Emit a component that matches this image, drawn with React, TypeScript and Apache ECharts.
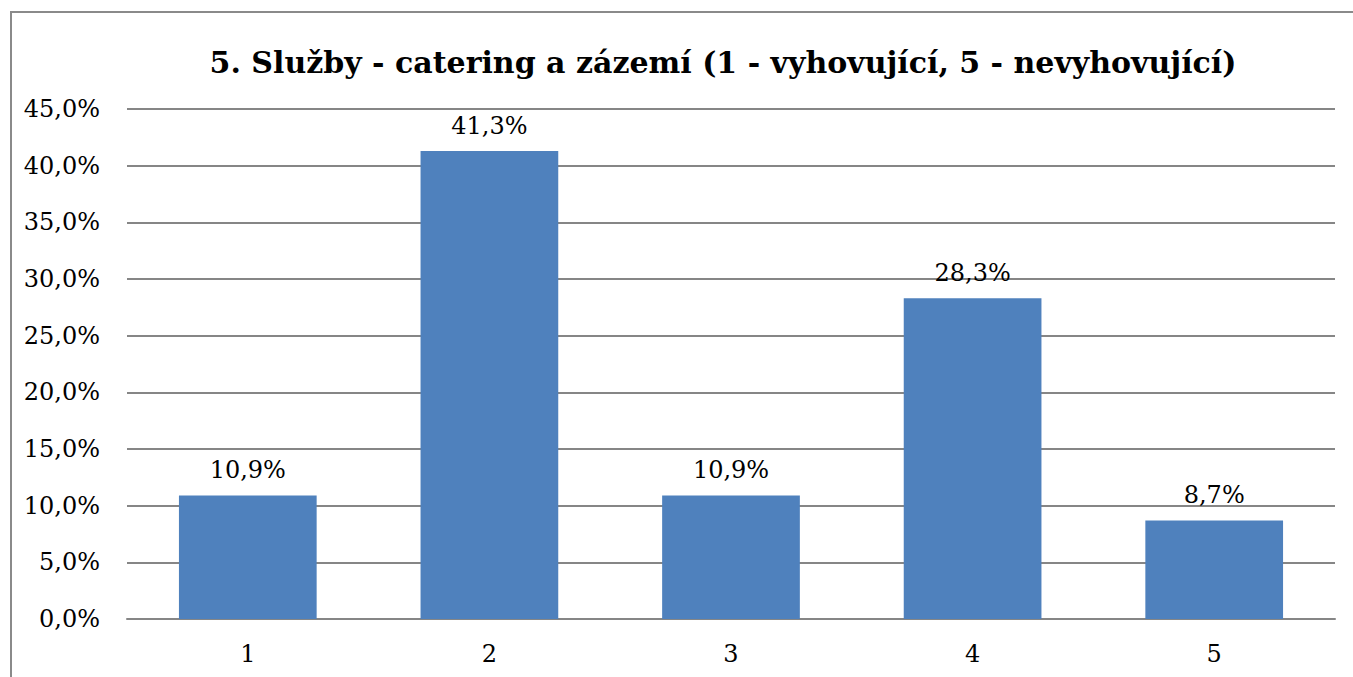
import React, { useEffect, useRef } from "react";
import * as echarts from "echarts";

const categories = ["1", "2", "3", "4", "5"];
const values = [10.9, 41.3, 10.9, 28.3, 8.7];
const titleText = "5. Služby - catering a zázemí (1 - vyhovující, 5 - nevyhovující)";

const fmt = (v: number) => v.toFixed(1).replace(".", ",") + "%";

export default function App() {
  const ref = useRef<HTMLDivElement>(null);
  useEffect(() => {
    const chart = echarts.init(ref.current!, null, { renderer: "svg" });
    chart.setOption({
      animation: false,
      backgroundColor: "#ffffff",
      title: {
        text: titleText,
        left: 718,
        textAlign: "center",
        top: 42,
        textStyle: {
          fontFamily: "DejaVu Serif",
          fontWeight: "bold",
          fontSize: 30,
          color: "#000000",
        },
      },
      graphic: [
        {
          type: "rect",
          shape: { x: 11, y: 12, width: 1400, height: 700 },
          style: { fill: "none", stroke: "#8a8a8a", lineWidth: 2 },
          silent: true,
        },
      ],
      grid: { left: 127, right: 18, top: 109, bottom: 58 },
      xAxis: {
        type: "category",
        data: categories,
        axisLine: { show: true, lineStyle: { color: "#868686", width: 2 } },
        axisTick: { show: false },
        axisLabel: {
          margin: 23,
          fontFamily: "DejaVu Serif",
          fontSize: 24,
          color: "#000000",
        },
      },
      yAxis: {
        type: "value",
        min: 0,
        max: 45,
        interval: 5,
        axisLine: { show: false },
        axisTick: { show: false },
        splitLine: { lineStyle: { color: "#868686", width: 2 } },
        axisLabel: {
          margin: 27,
          fontFamily: "DejaVu Serif",
          fontSize: 24,
          color: "#000000",
          formatter: (v: number) => fmt(v),
        },
      },
      series: [
        {
          type: "bar",
          data: values,
          barWidth: "57%",
          itemStyle: { color: "#4f81bd" },
          label: {
            show: true,
            position: "top",
            distance: 13,
            fontFamily: "DejaVu Serif",
            fontSize: 24,
            color: "#000000",
            formatter: (p: any) => fmt(p.value),
          },
        },
      ],
    });
    return () => chart.dispose();
  }, []);
  return (
    <div
      ref={ref}
      style={{ position: "fixed", left: 0, top: 0, width: 1353, height: 677 }}
    />
  );
}
